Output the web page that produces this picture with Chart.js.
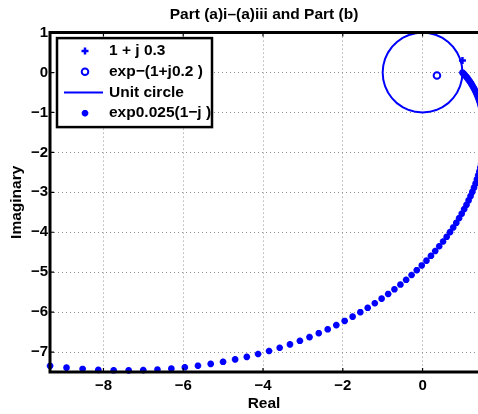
<!DOCTYPE html>
<html>
<head>
<meta charset="utf-8">
<script src="https://cdn.jsdelivr.net/npm/chart.js@4"></script>
<style>
  html, body { margin: 0; padding: 0; background: #fff; overflow: hidden; }
  canvas { display: block; }
</style>
</head>
<body>
<canvas id="chartOne" width="478" height="414"></canvas>
<script>
// point 1 + j0.3
const pointAX = [1];
const pointAY = [0.3];
// exp-(1+j0.2)
const pointBX = [0.361];
const pointBY = [-0.073];
// unit circle, 10 degree steps
const circleX = [1, 0.985, 0.940, 0.866, 0.766, 0.643, 0.5, 0.342, 0.174, 0, -0.174, -0.342, -0.5, -0.643, -0.766, -0.866, -0.940, -0.985, -1,
  -0.985, -0.940, -0.866, -0.766, -0.643, -0.5, -0.342, -0.174, 0, 0.174, 0.342, 0.5, 0.643, 0.766, 0.866, 0.940, 0.985, 1];
const circleY = [0, 0.174, 0.342, 0.5, 0.643, 0.766, 0.866, 0.940, 0.985, 1, 0.985, 0.940, 0.866, 0.766, 0.643, 0.5, 0.342, 0.174, 0,
  -0.174, -0.342, -0.5, -0.643, -0.766, -0.866, -0.940, -0.985, -1, -0.985, -0.940, -0.866, -0.766, -0.643, -0.5, -0.342, -0.174, 0];
// exp0.025(1-j) powers
const spiralX = [1.000, 1.025, 1.050, 1.075, 1.100, 1.124, 1.149, 1.173, 1.197, 1.221,
  1.244, 1.267, 1.290, 1.312, 1.333, 1.354, 1.374, 1.394, 1.412, 1.430,
  1.447, 1.463, 1.478, 1.491, 1.504, 1.515, 1.525, 1.533, 1.540, 1.546,
  1.549, 1.551, 1.551, 1.548, 1.544, 1.538, 1.529, 1.518, 1.504, 1.488,
  1.469, 1.447, 1.422, 1.394, 1.363, 1.328, 1.290, 1.248, 1.203, 1.154,
  1.101, 1.043, 0.982, 0.916, 0.845, 0.769, 0.689, 0.604, 0.514, 0.418,
  0.317, 0.210, 0.098, -0.020, -0.145, -0.275, -0.412, -0.555, -0.705, -0.862,
  -1.026, -1.197, -1.375, -1.560, -1.753, -1.953, -2.162, -2.378, -2.602, -2.834,
  -3.075, -3.324, -3.582, -3.848, -4.123, -4.406, -4.699, -5.001, -5.311, -5.631,
  -5.960, -6.298, -6.646, -7.002, -7.368, -7.744, -8.129, -8.522, -8.926, -9.338,
  -9.760];
const spiralY = [0, -0.026, -0.053, -0.081, -0.110, -0.141, -0.174, -0.207, -0.243, -0.279,
  -0.318, -0.358, -0.399, -0.442, -0.487, -0.533, -0.581, -0.631, -0.682, -0.735,
  -0.791, -0.847, -0.906, -0.967, -1.029, -1.093, -1.159, -1.227, -1.297, -1.369,
  -1.443, -1.519, -1.597, -1.676, -1.758, -1.841, -1.927, -2.014, -2.103, -2.194,
  -2.287, -2.382, -2.479, -2.577, -2.677, -2.779, -2.883, -2.988, -3.095, -3.203,
  -3.312, -3.423, -3.536, -3.649, -3.764, -3.880, -3.996, -4.114, -4.232, -4.351,
  -4.470, -4.590, -4.710, -4.831, -4.951, -5.071, -5.191, -5.310, -5.428, -5.546,
  -5.663, -5.778, -5.892, -6.003, -6.114, -6.221, -6.327, -6.430, -6.529, -6.626,
  -6.719, -6.808, -6.893, -6.974, -7.049, -7.120, -7.185, -7.244, -7.297, -7.343,
  -7.382, -7.414, -7.438, -7.453, -7.460, -7.458, -7.446, -7.424, -7.391, -7.347,
  -7.291];
const legendLabels = ['1 + j 0.3', 'exp\u2212(1+j0.2 )', 'Unit circle', 'exp0.025(1\u2212j )'];
const xTicks = [-8, -6, -4, -2, 0];
const yTicks = [1, 0, -1, -2, -3, -4, -5, -6, -7];

const FONT = "'Liberation Sans', Arial, sans-serif";
const BLUE = 'rgb(0, 0, 255)';

function toPoints(xs, ys){
    return xs.map((x, i) => ({x: x, y: ys[i]}));
}

function fmt(v){
    return v < 0 ? '\u2212' + Math.abs(v) : String(v);
}

// black box + inward tick marks, like matlab
const axesFrame = {
    id: 'axesFrame',
    afterDatasetsDraw(chart){
        const {ctx, chartArea: a, scales} = chart;
        ctx.save();
        ctx.strokeStyle = '#000';
        ctx.lineWidth = 1.2;
        ctx.beginPath();
        scales.x.ticks.forEach(t => {
            const px = scales.x.getPixelForValue(t.value);
            ctx.moveTo(px, a.bottom);
            ctx.lineTo(px, a.bottom - 4);
            ctx.moveTo(px, a.top);
            ctx.lineTo(px, a.top + 4);
        });
        scales.y.ticks.forEach(t => {
            const py = scales.y.getPixelForValue(t.value);
            ctx.moveTo(a.left, py);
            ctx.lineTo(a.left + 4, py);
        });
        ctx.stroke();
        ctx.lineWidth = 3;
        ctx.beginPath();
        ctx.moveTo(a.right, a.top);
        ctx.lineTo(a.left, a.top);
        ctx.lineTo(a.left, a.bottom);
        ctx.lineTo(a.right, a.bottom);
        ctx.stroke();
        ctx.restore();
    }
};

// legend drawn inside the axes with a border
const legendBox = {
    id: 'legendBox',
    afterDatasetsDraw(chart){
        const {ctx, chartArea: a} = chart;
        const x0 = a.left + 7, y0 = a.top + 5.5, w = 155, h = 89;
        ctx.save();
        ctx.fillStyle = '#fff';
        ctx.fillRect(x0, y0, w, h);
        ctx.lineWidth = 2.5;
        ctx.strokeStyle = '#000';
        ctx.strokeRect(x0, y0, w, h);
        chart.data.datasets.forEach((ds, i) => {
            const y = y0 + 13 + i * 20.7;
            ctx.strokeStyle = ds.borderColor;
            ctx.fillStyle = ds.backgroundColor;
            ctx.lineWidth = ds.borderWidth;
            if (ds.showLine){
                ctx.beginPath();
                ctx.moveTo(x0 + 7, y);
                ctx.lineTo(x0 + 46, y);
                ctx.stroke();
            } else {
                Chart.helpers.drawPoint(ctx, {
                    pointStyle: ds.pointStyle,
                    radius: ds.pointRadius,
                    borderWidth: ds.borderWidth,
                    rotation: 0
                }, x0 + 28, y);
            }
            ctx.fillStyle = '#000';
            ctx.font = 'bold 15.5px ' + FONT;
            ctx.textBaseline = 'middle';
            ctx.textAlign = 'left';
            ctx.fillText(ds.label, x0 + 52, y);
        });
        ctx.restore();
    }
};

window.addEventListener('load', load);

function load(){
    const ctx = document.getElementById('chartOne');
    Chart.defaults.font.family = FONT;
    Chart.defaults.color = '#000';

    new Chart(ctx, {
        type: 'scatter',
        data: {
            datasets: [{
                label: legendLabels[0],
                data: toPoints(pointAX, pointAY),
                pointStyle: 'cross',
                pointRadius: 3.5,
                borderWidth: 2.5,
                borderColor: BLUE,
                backgroundColor: BLUE,
                clip: 6
            }, {
                label: legendLabels[1],
                data: toPoints(pointBX, pointBY),
                pointStyle: 'circle',
                pointRadius: 3.3,
                borderWidth: 2,
                borderColor: BLUE,
                backgroundColor: 'rgba(255,255,255,0)',
                clip: 6
            }, {
                label: legendLabels[2],
                data: toPoints(circleX, circleY),
                showLine: true,
                pointRadius: 0,
                borderWidth: 2,
                borderColor: BLUE,
                backgroundColor: BLUE,
                tension: 0,
                clip: 3
            }, {
                label: legendLabels[3],
                data: toPoints(spiralX, spiralY),
                pointStyle: 'star',
                pointRadius: 3.3,
                borderWidth: 2.2,
                borderColor: BLUE,
                backgroundColor: BLUE,
                clip: {left: 5, top: 5, right: 0, bottom: 2}
            }]
        },
        options: {
            responsive: false,
            animation: false,
            events: [],
            layout: {
                padding: 0,
                autoPadding: false
            },
            scales: {
                x: {
                    type: 'linear',
                    min: -9.34,
                    max: 1.39,
                    afterBuildTicks: (scale) => {
                        scale.ticks = xTicks.map(v => ({value: v}));
                    },
                    afterFit: (scale) => {
                        scale.height = 42;
                        scale.paddingLeft = 0;
                        scale.paddingRight = 0;
                    },
                    grid: {
                        color: '#8f8f8f',
                        lineWidth: 1,
                        drawTicks: false
                    },
                    border: {
                        display: false,
                        dash: [1, 3]
                    },
                    ticks: {
                        padding: 5,
                        maxRotation: 0,
                        font: { size: 15, weight: 'bold' },
                        callback: (value) => fmt(value)
                    },
                    title: {
                        display: true,
                        text: 'Real',
                        font: { size: 15.5, weight: 'bold' },
                        padding: { top: 0, bottom: 1 }
                    }
                },
                y: {
                    type: 'linear',
                    min: -7.5,
                    max: 1,
                    afterBuildTicks: (scale) => {
                        scale.ticks = yTicks.map(v => ({value: v}));
                    },
                    afterFit: (scale) => {
                        scale.width = 50;
                        scale.paddingTop = 0;
                        scale.paddingBottom = 0;
                    },
                    grid: {
                        color: '#8f8f8f',
                        lineWidth: 1,
                        drawTicks: false
                    },
                    border: {
                        display: false,
                        dash: [1, 3]
                    },
                    ticks: {
                        padding: 2,
                        font: { size: 15, weight: 'bold' },
                        callback: (value) => fmt(value)
                    },
                    title: {
                        display: true,
                        text: 'Imaginary',
                        font: { size: 15.5, weight: 'bold' },
                        padding: { top: 7, bottom: 0 }
                    }
                }
            },
            plugins: {
                legend: {
                    display: false
                },
                tooltip: {
                    enabled: false
                },
                title: {
                    display: true,
                    fullSize: false,
                    text: 'Part (a)i\u2013(a)iii and Part (b)',
                    color: '#000',
                    font: { size: 15.5, weight: 'bold' },
                    padding: { top: 5, bottom: 9 }
                }
            }
        },
        plugins: [axesFrame, legendBox]
    });
}
</script>
</body>
</html>
